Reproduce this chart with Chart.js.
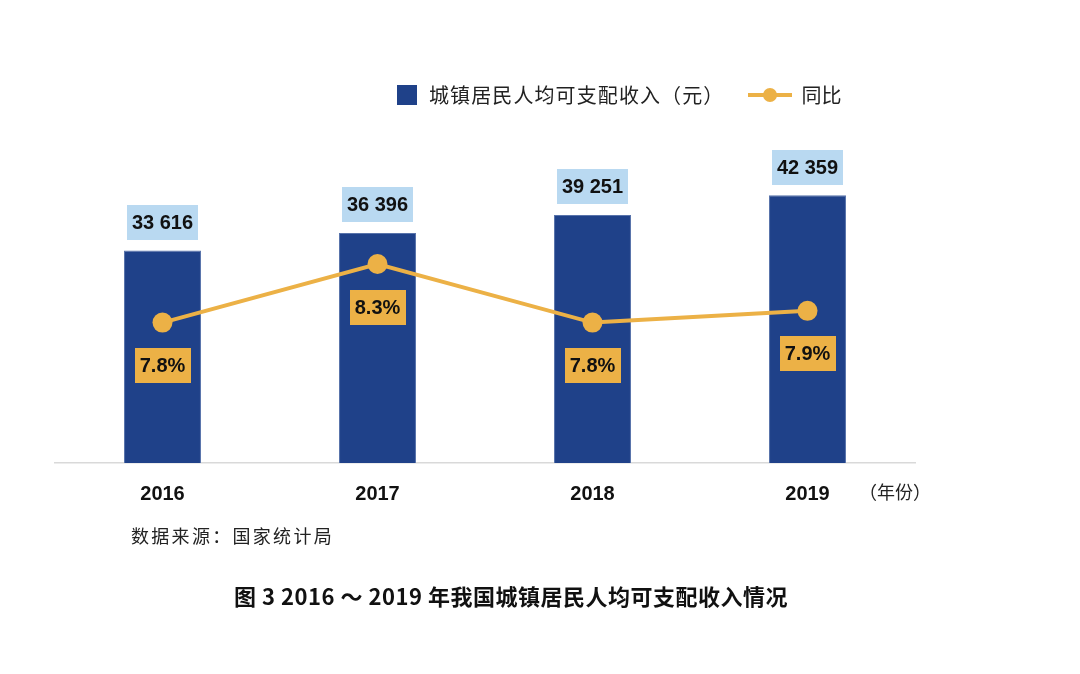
<!DOCTYPE html>
<html>
<head>
<meta charset="utf-8">
<script src="https://cdn.jsdelivr.net/npm/chart.js@4/dist/chart.umd.min.js"></script>
<style>
  html, body { margin: 0; padding: 0; background: #ffffff; }
  #wrap { position: relative; width: 1080px; height: 674px; overflow: hidden; }
  #c { position: absolute; left: 0; top: 0; }
  .txt { position: absolute; white-space: nowrap; color: #222; font-family: "Noto Sans CJK SC", "Noto Sans", sans-serif; }
  #legend { left: 397px; top: 82px; height: 26px; font-size: 20px; line-height: 26px; display: flex; align-items: center; }
  #legend .sq { width: 20px; height: 20px; background: #1f4189; margin-right: 12px; }
  #legend .lt { letter-spacing: 1.1px; }
  #legend .ln { position: relative; width: 44px; height: 20px; margin-left: 24px; margin-right: 9px; }
  #legend .ln .bar { position: absolute; left: 0; top: 8px; width: 44px; height: 4px; background: #ecb146; }
  #legend .ln .dot { position: absolute; left: 15px; top: 3px; width: 14px; height: 14px; border-radius: 50%; background: #ecb146; }
  #unit { left: 859px; top: 479px; font-size: 18px; line-height: 24px; }
  #source { left: 131px; top: 522px; font-size: 18px; line-height: 26px; letter-spacing: 2.3px; color: #222; }
  #title { left: 0; width: 1022px; text-align: center; top: 580px; font-size: 22px; line-height: 30px; font-weight: bold; letter-spacing: 0.5px; color: #111; }
</style>
</head>
<body>
<div id="wrap">
  <canvas id="c" width="1080" height="674"></canvas>
  <div id="legend" class="txt"><span class="sq"></span><span class="lt">城镇居民人均可支配收入（元）</span><span class="ln"><span class="bar"></span><span class="dot"></span></span><span>同比</span></div>
  <div id="unit" class="txt">（年份）</div>
  <div id="source" class="txt">数据来源：国家统计局</div>
  <div id="title" class="txt">图 3 2016 ～ 2019 年我国城镇居民人均可支配收入情况</div>
</div>
<script>
const years = ["2016", "2017", "2018", "2019"];
const income = [33616, 36396, 39251, 42359];
const growth = [7.8, 8.3, 7.8, 7.9];
const incomeLabels = ["33 616", "36 396", "39 251", "42 359"];
const growthLabels = ["7.8%", "8.3%", "7.8%", "7.9%"];

const BLUE = "#1f4189";
const ORANGE = "#ecb146";
const LIGHTBLUE = "#b9d9f1";

function drawBox(ctx, cx, cy, text, bg) {
  ctx.font = "bold 20px 'Liberation Sans', Arial, sans-serif";
  const w = ctx.measureText(text).width + 10;
  const h = 35;
  ctx.fillStyle = bg;
  ctx.fillRect(Math.round(cx - w / 2), Math.round(cy - h / 2), Math.round(w), h);
  ctx.fillStyle = "#111";
  ctx.textAlign = "center";
  ctx.textBaseline = "middle";
  ctx.fillText(text, cx, cy + 1);
}

const labelPlugin = {
  id: "labelBoxes",
  afterDatasetsDraw(chart) {
    const ctx = chart.ctx;
    ctx.save();
    const barMeta = chart.getDatasetMeta(1);
    barMeta.data.forEach((el, i) => {
      drawBox(ctx, el.x, el.y - 28, incomeLabels[i], LIGHTBLUE);
    });
    const lineMeta = chart.getDatasetMeta(0);
    lineMeta.data.forEach((el, i) => {
      drawBox(ctx, el.x, el.y + 43, growthLabels[i], ORANGE);
    });
    ctx.restore();
  }
};

new Chart(document.getElementById("c"), {
  data: {
    labels: years,
    datasets: [
      {
        type: "line",
        label: "同比",
        data: growth,
        yAxisID: "y2",
        borderColor: ORANGE,
        backgroundColor: ORANGE,
        borderWidth: 4,
        pointRadius: 10,
        pointHoverRadius: 10,
        pointBackgroundColor: ORANGE,
        pointBorderWidth: 0,
        tension: 0,
        order: 0
      },
      {
        type: "bar",
        label: "城镇居民人均可支配收入（元）",
        data: income,
        yAxisID: "y",
        backgroundColor: BLUE,
        borderColor: "#5873ab",
        borderWidth: 1,
        categoryPercentage: 1,
        barPercentage: 0.358,
        order: 1
      }
    ]
  },
  options: {
    responsive: false,
    animation: false,
    devicePixelRatio: 1,
    layout: { padding: { left: 55, right: 165, top: 147, bottom: 149 } },
    plugins: { legend: { display: false }, tooltip: { enabled: false } },
    scales: {
      x: {
        grid: { display: false, drawTicks: false },
        border: { display: true, color: "#d9d9d9", width: 1.5 },
        ticks: {
          color: "#111",
          padding: 19,
          font: { family: "'Liberation Sans', Arial, sans-serif", size: 20, weight: "bold" }
        }
      },
      y: { display: false, min: 0, max: 50000 },
      y2: { display: false, min: 6.6, max: 9.3, position: "right" }
    }
  },
  plugins: [labelPlugin]
});
</script>
</body>
</html>
